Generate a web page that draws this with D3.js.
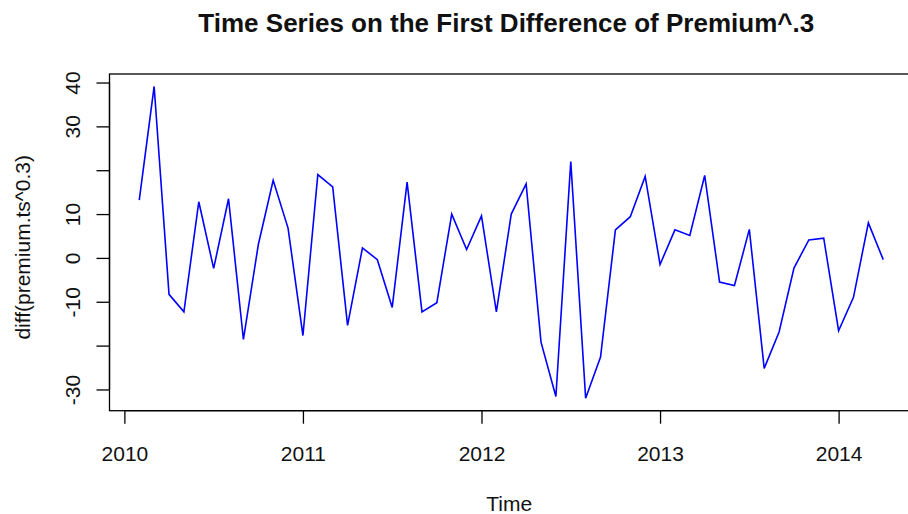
<!DOCTYPE html>
<html>
<head>
<meta charset="utf-8">
<script src="https://cdn.jsdelivr.net/npm/d3@7"></script>
<style>
  html, body { margin: 0; padding: 0; background: #fff; }
  svg { display: block; font-family: Arial, "Liberation Sans", sans-serif; }
</style>
</head>
<body>
<svg id="chart" width="908" height="514"></svg>
<script>
// Monthly series, Feb 2010 .. Apr 2014: first difference of premium^0.3
const startYear = 2010;
const startMonth = 1; // 0-based: February
const values = [
  13.2, 39.1, -8.3, -12.3, 12.8, -2.4, 13.5, -18.6, 3.0, 17.7, 6.8,
  -17.7, 19.0, 16.2, -15.4, 2.3, -0.4, -11.3, 17.3, -12.3, -10.2, 10.0, 1.9, 9.6,
  -12.3, 10.0, 16.9, -19.2, -31.6, 22.0, -32.0, -22.6, 6.4, 9.4, 18.6, -1.5,
  6.4, 5.1, 18.8, -5.5, -6.3, 6.5, -25.2, -16.9, -2.3, 4.1, 4.5, -16.6,
  -9.0, 8.0, -0.4
];
const xTicks = [2010, 2011, 2012, 2013, 2014];
const yTicks = [-30, -20, -10, 0, 10, 20, 30, 40];
const yTickLabels = ["-30", "", "-10", "0", "10", "", "30", "40"];
const titleText = "Time Series on the First Difference of Premium^.3";
const xLabel = "Time";
const yLabel = "diff(premium.ts^0.3)";

const times = values.map((v, i) => startYear + (startMonth + i) / 12);
const series = values.map((v, i) => ({ t: times[i], v }));

const svg = d3.select("#chart");
const box = { left: 109.5, right: 913, top: 74, bottom: 410.7 };

// R-style 4% extension on both axes
const tExt = (d3.max(times) - d3.min(times)) * 0.04;
const vExt = (d3.max(values) - d3.min(values)) * 0.04;
const x = d3.scaleLinear()
  .domain([d3.min(times) - tExt, d3.max(times) + tExt])
  .range([box.left, box.right]);
const y = d3.scaleLinear()
  .domain([d3.min(values) - vExt, d3.max(values) + vExt])
  .range([box.bottom, box.top]);

// plot frame
svg.append("rect")
  .attr("x", box.left).attr("y", box.top)
  .attr("width", box.right - box.left).attr("height", box.bottom - box.top)
  .attr("fill", "none").attr("stroke", "#000").attr("stroke-width", 1.3);

// x axis (bottom), ticks and labels
const xAxis = d3.axisBottom(x).tickValues(xTicks).tickFormat(d3.format("d"))
  .tickSize(13).tickPadding(22);
const gx = svg.append("g").attr("transform", `translate(0,${box.bottom})`).call(xAxis);
gx.select(".domain")
  .attr("d", `M${x(xTicks[0])},0H${x(xTicks[xTicks.length - 1])}`)
  .attr("stroke-width", 1.3);
gx.selectAll(".tick line").attr("stroke-width", 1.3);
gx.selectAll(".tick text")
  .attr("font-size", 21).attr("fill", "#111")
  .attr("font-family", "Arial, 'Liberation Sans', sans-serif");

// y axis (left), rotated labels as in base graphics
const yAxis = d3.axisLeft(y).tickValues(yTicks)
  .tickFormat((d, i) => yTickLabels[i]).tickSize(13).tickPadding(0);
const gy = svg.append("g").attr("transform", `translate(${box.left},0)`).call(yAxis);
gy.select(".domain")
  .attr("d", `M0,${y(yTicks[0])}V${y(yTicks[yTicks.length - 1])}`)
  .attr("stroke-width", 1.3);
gy.selectAll(".tick line").attr("stroke-width", 1.3);
gy.selectAll(".tick text")
  .attr("font-size", 21).attr("fill", "#111")
  .attr("font-family", "Arial, 'Liberation Sans', sans-serif")
  .attr("x", null).attr("dy", null)
  .attr("text-anchor", "middle")
  .attr("transform", "translate(-30,0) rotate(-90)");

// series line
const line = d3.line().x(d => x(d.t)).y(d => y(d.v));
svg.append("path")
  .datum(series)
  .attr("d", line)
  .attr("fill", "none")
  .attr("stroke", "#0000ff")
  .attr("stroke-width", 1.6)
  .attr("stroke-linejoin", "miter");

// title and axis titles
svg.append("text")
  .attr("x", (box.left + box.right) / 2 - 5).attr("y", 31.5)
  .attr("text-anchor", "middle")
  .attr("font-size", 26).attr("font-weight", "bold").attr("fill", "#111")
  .text(titleText);

svg.append("text")
  .attr("x", (box.left + box.right) / 2 - 2).attr("y", 510.5)
  .attr("text-anchor", "middle")
  .attr("font-size", 21).attr("fill", "#111")
  .text(xLabel);

svg.append("text")
  .attr("transform", `translate(30,${(box.top + box.bottom) / 2 + 5}) rotate(-90)`)
  .attr("text-anchor", "middle")
  .attr("font-size", 21).attr("fill", "#111")
  .text(yLabel);
</script>
</body>
</html>
